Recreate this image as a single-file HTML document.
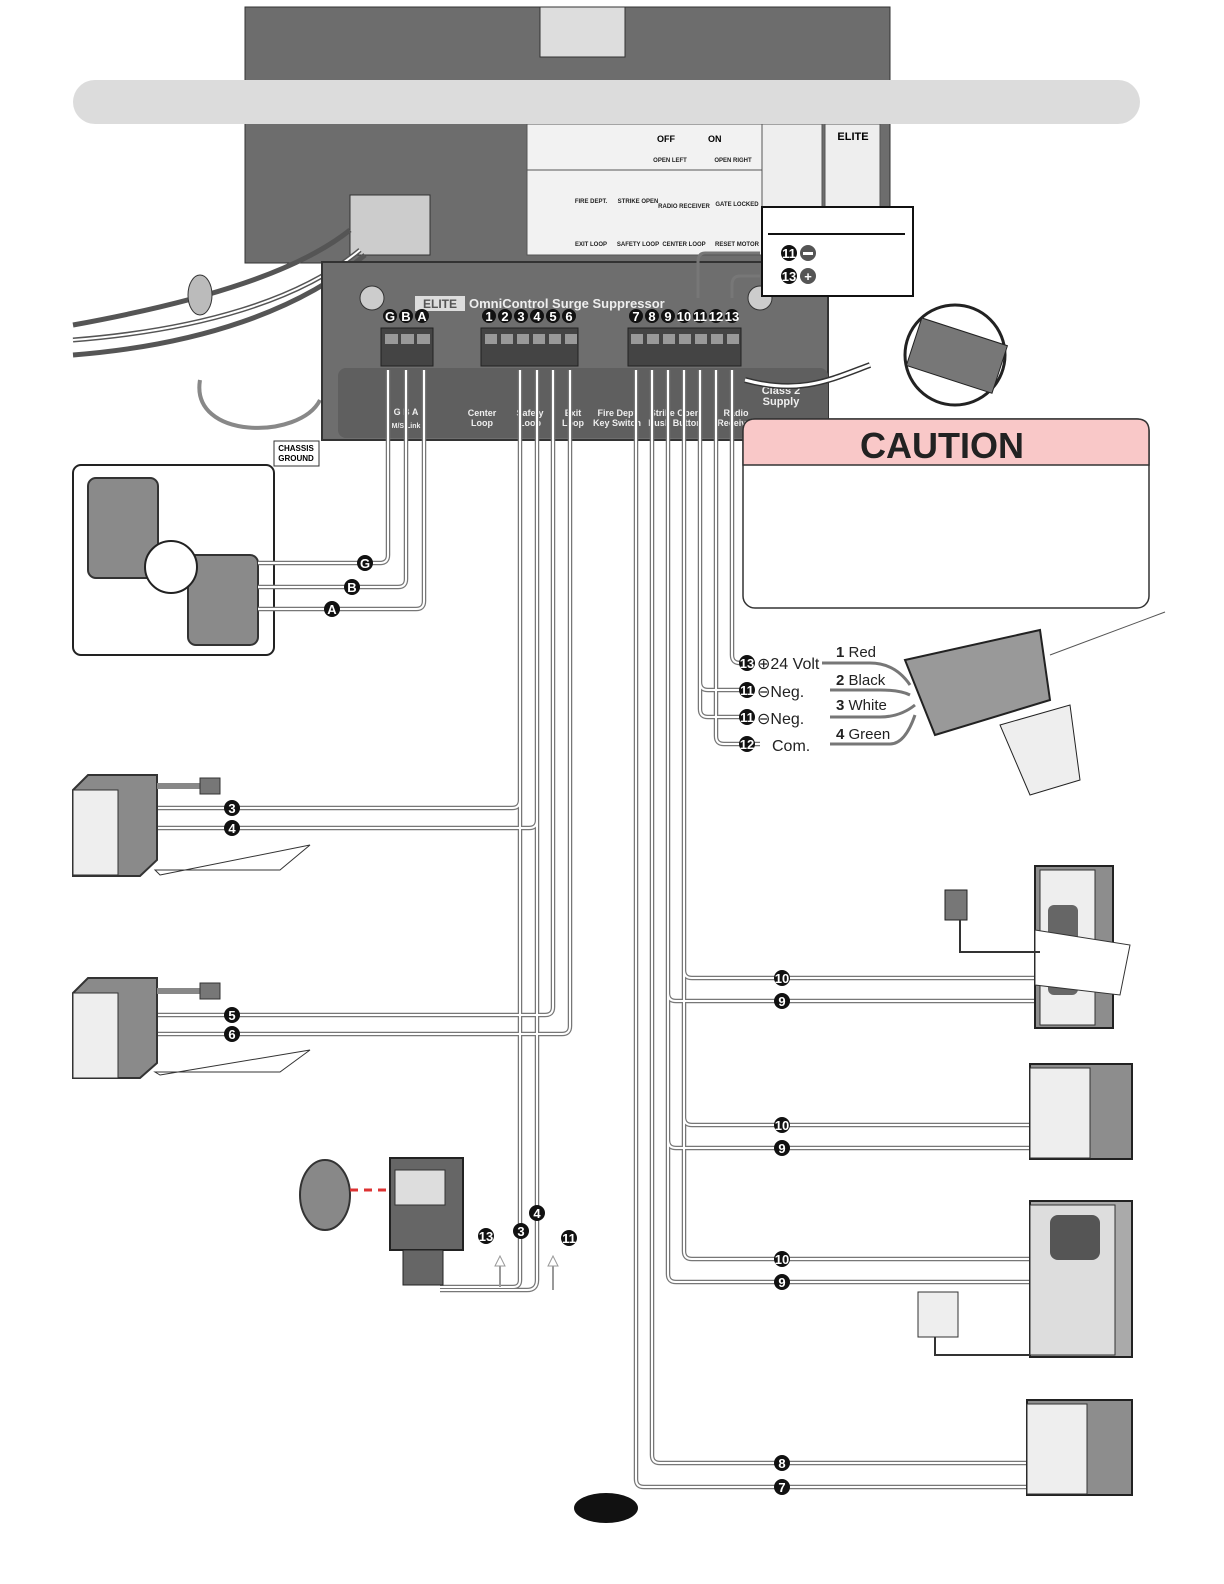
<!DOCTYPE html>
<html><head><meta charset="utf-8"><style>
html,body{margin:0;padding:0;background:#fff;overflow:hidden;width:1224px;height:1584px}
svg{display:block;font-family:"Liberation Sans",sans-serif}
.wo{fill:none;stroke:#777;stroke-width:4.5}
.wi{fill:none;stroke:#fff;stroke-width:2}
.n{fill:#111}
.nt{fill:#fff;font-weight:bold;font-size:13px;text-anchor:middle}
.dev{fill:#8a8a8a;stroke:#333;stroke-width:2}
</style></head><body>
<svg width="1224" height="1584" viewBox="0 0 1224 1584" xmlns="http://www.w3.org/2000/svg">
<!-- top board -->
<rect x="245" y="7" width="645" height="256" fill="#6d6d6d" stroke="#333"/>
<rect x="540" y="7" width="85" height="50" fill="#ddd" stroke="#333"/>
<rect x="527" y="170" width="235" height="85" fill="#f2f2f2" stroke="#555"/>
<rect x="527" y="124" width="235" height="46" fill="#f2f2f2" stroke="#555"/>
<rect x="762" y="124" width="60" height="84" fill="#eee" stroke="#555"/>
<rect x="825" y="124" width="55" height="84" fill="#eee" stroke="#555"/>
<text x="853" y="140" font-size="11" font-weight="bold" text-anchor="middle">ELITE</text>
<rect x="350" y="195" width="80" height="60" fill="#ccc" stroke="#333"/>
<g font-size="6" font-weight="bold" fill="#222" text-anchor="middle">
<text x="591" y="203">FIRE DEPT.</text><text x="638" y="203">STRIKE OPEN</text><text x="684" y="208">RADIO RECEIVER</text><text x="737" y="206">GATE LOCKED</text>
<text x="591" y="246">EXIT LOOP</text><text x="638" y="246">SAFETY LOOP</text><text x="684" y="246">CENTER LOOP</text><text x="737" y="246">RESET MOTOR</text>
<text x="670" y="162">OPEN LEFT</text><text x="733" y="162">OPEN RIGHT</text></g>
<text x="657" y="142" font-size="9" font-weight="bold">OFF</text><text x="708" y="142" font-size="9" font-weight="bold">ON</text>
<!-- grey banner -->
<rect x="73" y="80" width="1067" height="44" rx="22" fill="#dcdcdc"/>
<!-- wires bundle left -->
<path d="M73 340 C200 330 300 300 360 250 M73 355 C200 345 300 310 365 255 M73 325 C210 300 300 270 350 230" fill="none" stroke="#555" stroke-width="5"/>
<path d="M73 340 C200 330 300 300 360 250" fill="none" stroke="#fff" stroke-width="2"/>
<ellipse cx="200" cy="295" rx="12" ry="20" fill="#bbb" stroke="#333"/>
<path d="M200 380 C190 440 300 440 320 400" fill="none" stroke="#888" stroke-width="4"/>
<rect x="274" y="441" width="45" height="25" fill="#fff" stroke="#333"/>
<text x="296" y="451" font-size="8" font-weight="bold" text-anchor="middle">CHASSIS</text>
<text x="296" y="461" font-size="8" font-weight="bold" text-anchor="middle">GROUND</text>
<!-- surge suppressor -->
<path d="M322 262 L828 262 L828 440 L322 440 Z" fill="#6e6e6e" stroke="#333" stroke-width="2"/>
<rect x="338" y="368" width="490" height="70" rx="8" fill="#5f5f5f"/>
<circle cx="372" cy="298" r="12" fill="#ccc" stroke="#333"/>
<circle cx="760" cy="298" r="12" fill="#ccc" stroke="#333"/>
<rect x="415" y="296" width="50" height="15" fill="#ddd"/><text x="440" y="308" font-size="12" font-weight="bold" text-anchor="middle" fill="#555">ELITE</text>
<text x="469" y="308" font-size="13" font-weight="bold" fill="#eee">OmniControl Surge Suppressor</text>
<rect x="381" y="328" width="52" height="38" fill="#444" stroke="#222"/>
<rect x="481" y="328" width="97" height="38" fill="#444" stroke="#222"/>
<rect x="628" y="328" width="113" height="38" fill="#444" stroke="#222"/>
<g fill="#999">
<rect x="385" y="334" width="13" height="10"/><rect x="401" y="334" width="13" height="10"/><rect x="417" y="334" width="13" height="10"/>
<rect x="485" y="334" width="12" height="10"/><rect x="501" y="334" width="12" height="10"/><rect x="517" y="334" width="12" height="10"/><rect x="533" y="334" width="12" height="10"/><rect x="549" y="334" width="12" height="10"/><rect x="565" y="334" width="12" height="10"/>
<rect x="631" y="334" width="12" height="10"/><rect x="647" y="334" width="12" height="10"/><rect x="663" y="334" width="12" height="10"/><rect x="679" y="334" width="12" height="10"/><rect x="695" y="334" width="12" height="10"/><rect x="711" y="334" width="12" height="10"/><rect x="727" y="334" width="12" height="10"/>
</g>
<g font-size="9" font-weight="bold" fill="#eee" text-anchor="middle">
<text x="406" y="415">G    B    A</text><text x="406" y="428" font-size="7">M/S Link</text>
<text x="482" y="416">Center</text><text x="482" y="426">Loop</text>
<text x="530" y="416">Safety</text><text x="530" y="426">Loop</text>
<text x="573" y="416">Exit</text><text x="573" y="426">Loop</text>
<text x="617" y="416">Fire Dept</text><text x="617" y="426">Key Switch</text>
<text x="675" y="416">Strike Open</text><text x="675" y="426">Push Button</text>
<text x="736" y="416">Radio</text><text x="736" y="426">Receiver</text>
<text x="781" y="394" font-size="11">Class 2</text><text x="781" y="405" font-size="11">Supply</text>
</g>
<g>
<circle class="n" cx="390" cy="316" r="7"/><text class="nt" x="390" y="321">G</text>
<circle class="n" cx="406" cy="316" r="7"/><text class="nt" x="406" y="321">B</text>
<circle class="n" cx="422" cy="316" r="7"/><text class="nt" x="422" y="321">A</text>
<circle class="n" cx="489" cy="316" r="7"/><text class="nt" x="489" y="321">1</text>
<circle class="n" cx="505" cy="316" r="7"/><text class="nt" x="505" y="321">2</text>
<circle class="n" cx="521" cy="316" r="7"/><text class="nt" x="521" y="321">3</text>
<circle class="n" cx="537" cy="316" r="7"/><text class="nt" x="537" y="321">4</text>
<circle class="n" cx="553" cy="316" r="7"/><text class="nt" x="553" y="321">5</text>
<circle class="n" cx="569" cy="316" r="7"/><text class="nt" x="569" y="321">6</text>
<circle class="n" cx="636" cy="316" r="7"/><text class="nt" x="636" y="321">7</text>
<circle class="n" cx="652" cy="316" r="7"/><text class="nt" x="652" y="321">8</text>
<circle class="n" cx="668" cy="316" r="7"/><text class="nt" x="668" y="321">9</text>
<circle class="n" cx="684" cy="316" r="7"/><text class="nt" x="684" y="321" font-size="10">10</text>
<circle class="n" cx="700" cy="316" r="7"/><text class="nt" x="700" y="321" font-size="10">11</text>
<circle class="n" cx="716" cy="316" r="7"/><text class="nt" x="716" y="321" font-size="10">12</text>
<circle class="n" cx="732" cy="316" r="7"/><text class="nt" x="732" y="321" font-size="10">13</text>
</g>
<!-- callout box -->
<rect x="762" y="207" width="151" height="89" fill="#fff" stroke="#111" stroke-width="2"/>
<line x1="768" y1="234" x2="905" y2="234" stroke="#111" stroke-width="2"/>
<circle class="n" cx="789" cy="253" r="8"/><text class="nt" x="789" y="258" font-size="10">11</text>
<circle fill="#555" cx="808" cy="253" r="8"/><rect x="803" y="252" width="10" height="3" fill="#fff"/>
<circle class="n" cx="789" cy="276" r="8"/><text class="nt" x="789" y="281" font-size="10">13</text>
<circle fill="#555" cx="808" cy="276" r="8"/><text class="nt" x="808" y="281" font-size="15">+</text>
<path d="M760 253 L705 253 Q698 253 698 262 L698 298 M760 276 L740 276 Q732 276 732 285 L732 298" fill="none" stroke="#777" stroke-width="3"/>
<!-- connector zoom -->
<path d="M745 380 C800 395 830 380 870 365" fill="none" stroke="#333" stroke-width="6"/>
<path d="M745 380 C800 395 830 380 870 365" fill="none" stroke="#fff" stroke-width="3"/>
<circle cx="955" cy="355" r="50" fill="#fff" stroke="#222" stroke-width="3"/>
<rect x="912" y="330" width="90" height="50" fill="#777" stroke="#222" transform="rotate(18 955 355)"/>
<!-- caution -->
<rect x="743" y="419" width="406" height="189" rx="12" fill="#fff" stroke="#333" stroke-width="1.5"/>
<path d="M755 419 H1137 Q1149 419 1149 431 V465 H743 V431 Q743 419 755 419 Z" fill="#f9c8c8" stroke="#333" stroke-width="1.5"/>
<text x="942" y="458" font-size="36" font-weight="bold" text-anchor="middle" fill="#222">CAUTION</text>
<!-- left box -->
<rect x="73" y="465" width="201" height="190" rx="8" fill="#fff" stroke="#222" stroke-width="2"/>
<rect x="88" y="478" width="70" height="100" rx="8" class="dev"/>
<rect x="188" y="555" width="70" height="90" rx="8" class="dev"/>
<circle cx="171" cy="567" r="26" fill="#fff" stroke="#222" stroke-width="2"/>
<!-- WIRES -->
<g>
<path class="wo" d="M388 370 V555 Q388 563 380 563 H258 M406 370 V579 Q406 587 398 587 H258 M424 370 V601 Q424 609 416 609 H258
M520 370 V800 Q520 808 512 808 H157 M537 370 V820 Q537 828 529 828 H157 M553 370 V1007 Q553 1015 545 1015 H157 M570 370 V1026 Q570 1034 562 1034 H157
M520 800 V1280 Q520 1287 513 1287 H440 M537 820 V1280 Q537 1290 527 1290 H440
M636 370 V1479 Q636 1487 644 1487 H1040 M652 370 V1455 Q652 1463 660 1463 H1040
M668 370 V1274 Q668 1282 676 1282 H1032 M684 370 V1251 Q684 1259 692 1259 H1032 M668 993 Q668 1001 676 1001 H1040 M684 970 Q684 978 692 978 H1040 M668 1140 Q668 1148 676 1148 H1032 M684 1117 Q684 1125 692 1125 H1032
M700 370 V682 Q700 690 708 690 H740 M700 682 V709 Q700 717 708 717 H740 M716 370 V736 Q716 744 724 744 H760 M732 370 V655 Q732 663 740 663 H745"/>
<path class="wi" d="M388 370 V555 Q388 563 380 563 H258 M406 370 V579 Q406 587 398 587 H258 M424 370 V601 Q424 609 416 609 H258
M520 370 V800 Q520 808 512 808 H157 M537 370 V820 Q537 828 529 828 H157 M553 370 V1007 Q553 1015 545 1015 H157 M570 370 V1026 Q570 1034 562 1034 H157
M520 800 V1280 Q520 1287 513 1287 H440 M537 820 V1280 Q537 1290 527 1290 H440
M636 370 V1479 Q636 1487 644 1487 H1040 M652 370 V1455 Q652 1463 660 1463 H1040
M668 370 V1274 Q668 1282 676 1282 H1032 M684 370 V1251 Q684 1259 692 1259 H1032 M668 993 Q668 1001 676 1001 H1040 M684 970 Q684 978 692 978 H1040 M668 1140 Q668 1148 676 1148 H1032 M684 1117 Q684 1125 692 1125 H1032
M700 370 V682 Q700 690 708 690 H740 M700 682 V709 Q700 717 708 717 H740 M716 370 V736 Q716 744 724 744 H760 M732 370 V655 Q732 663 740 663 H745"/>
<path d="M500 1287 V1262 M553 1290 V1262" stroke="#999" stroke-width="2" fill="none"/>
<path d="M495 1266 L500 1256 L505 1266 Z M548 1266 L553 1256 L558 1266 Z" fill="#fff" stroke="#999"/>
</g>
<g>
<circle class="n" cx="365" cy="563" r="8"/><text class="nt" x="365" y="568">G</text>
<circle class="n" cx="352" cy="587" r="8"/><text class="nt" x="352" y="592">B</text>
<circle class="n" cx="332" cy="609" r="8"/><text class="nt" x="332" y="614">A</text>
<circle class="n" cx="232" cy="808" r="8"/><text class="nt" x="232" y="813">3</text>
<circle class="n" cx="232" cy="828" r="8"/><text class="nt" x="232" y="833">4</text>
<circle class="n" cx="232" cy="1015" r="8"/><text class="nt" x="232" y="1020">5</text>
<circle class="n" cx="232" cy="1034" r="8"/><text class="nt" x="232" y="1039">6</text>
<circle class="n" cx="486" cy="1236" r="8"/><text class="nt" x="486" y="1241" font-size="10">13</text>
<circle class="n" cx="521" cy="1231" r="8"/><text class="nt" x="521" y="1236">3</text>
<circle class="n" cx="537" cy="1213" r="8"/><text class="nt" x="537" y="1218">4</text>
<circle class="n" cx="569" cy="1238" r="8"/><text class="nt" x="569" y="1243" font-size="10">11</text>
<circle class="n" cx="782" cy="978" r="8"/><text class="nt" x="782" y="983" font-size="10">10</text>
<circle class="n" cx="782" cy="1001" r="8"/><text class="nt" x="782" y="1006">9</text>
<circle class="n" cx="782" cy="1125" r="8"/><text class="nt" x="782" y="1130" font-size="10">10</text>
<circle class="n" cx="782" cy="1148" r="8"/><text class="nt" x="782" y="1153">9</text>
<circle class="n" cx="782" cy="1259" r="8"/><text class="nt" x="782" y="1264" font-size="10">10</text>
<circle class="n" cx="782" cy="1282" r="8"/><text class="nt" x="782" y="1287">9</text>
<circle class="n" cx="782" cy="1463" r="8"/><text class="nt" x="782" y="1468">8</text>
<circle class="n" cx="782" cy="1487" r="8"/><text class="nt" x="782" y="1492">7</text>
</g>
<g font-size="16" fill="#222">
<circle class="n" cx="747" cy="663" r="8"/><text class="nt" x="747" y="668" font-size="10">13</text><text x="757" y="669">⊕24 Volt</text>
<circle class="n" cx="747" cy="690" r="8"/><text class="nt" x="747" y="695" font-size="10">11</text><text x="757" y="697">⊖Neg.</text>
<circle class="n" cx="747" cy="717" r="8"/><text class="nt" x="747" y="722" font-size="10">11</text><text x="757" y="724">⊖Neg.</text>
<circle class="n" cx="747" cy="744" r="8"/><text class="nt" x="747" y="749" font-size="10">12</text><text x="772" y="751">Com.</text>
<text x="836" y="657" font-size="15"><tspan font-weight="bold">1</tspan> Red</text>
<text x="836" y="685" font-size="15"><tspan font-weight="bold">2</tspan> Black</text>
<text x="836" y="710" font-size="15"><tspan font-weight="bold">3</tspan> White</text>
<text x="836" y="739" font-size="15"><tspan font-weight="bold">4</tspan> Green</text>
</g>
<path d="M822 663 H870 Q895 663 910 685 M830 690 H880 Q900 690 910 695 M830 717 H880 Q900 717 915 705 M830 744 H890 Q905 744 915 715" fill="none" stroke="#777" stroke-width="3"/>
<path d="M905 660 L1040 630 L1050 700 L935 735 Z" fill="#999" stroke="#222" stroke-width="2"/>
<line x1="1050" y1="655" x2="1165" y2="612" stroke="#555"/>
<path d="M1000 725 L1070 705 L1080 780 L1030 795 Z" fill="#eee" stroke="#222"/>
<!-- left detectors -->
<path d="M73 790 L88 775 H157 V860 L140 876 H73 Z" class="dev"/><rect x="73" y="790" width="45" height="85" fill="#eee" stroke="#333"/>
<rect x="157" y="783" width="45" height="6" fill="#888"/><rect x="200" y="778" width="20" height="16" fill="#777" stroke="#333"/>
<path d="M160 875 L310 845 L280 870 H155 Z" fill="#fff" stroke="#333"/>
<path d="M73 993 L88 978 H157 V1063 L140 1078 H73 Z" class="dev"/><rect x="73" y="993" width="45" height="85" fill="#eee" stroke="#333"/>
<rect x="157" y="988" width="45" height="6" fill="#888"/><rect x="200" y="983" width="20" height="16" fill="#777" stroke="#333"/>
<path d="M160 1075 L310 1050 L280 1072 H155 Z" fill="#fff" stroke="#333"/>
<!-- photo eye -->
<ellipse cx="325" cy="1195" rx="25" ry="35" fill="#888" stroke="#333" stroke-width="2"/>
<line x1="350" y1="1190" x2="390" y2="1190" stroke="#d33" stroke-width="3" stroke-dasharray="8 6"/>
<rect x="390" y="1158" width="73" height="92" fill="#666" stroke="#222" stroke-width="2"/>
<rect x="395" y="1170" width="50" height="35" fill="#ddd" stroke="#333"/>
<rect x="403" y="1250" width="40" height="35" fill="#666" stroke="#222"/>
<!-- right devices -->
<rect x="1035" y="866" width="78" height="162" fill="#8d8d8d" stroke="#222" stroke-width="2"/><rect x="1040" y="870" width="55" height="155" fill="#eee" stroke="#333"/>
<rect x="1048" y="905" width="30" height="90" rx="6" fill="#666"/>
<path d="M1035 930 L1130 945 L1120 995 L1035 985 Z" fill="#fff" stroke="#333"/>
<rect x="945" y="890" width="22" height="30" fill="#777" stroke="#222"/>
<path d="M960 920 V952 H1040" fill="none" stroke="#333" stroke-width="2"/>
<rect x="1030" y="1064" width="102" height="95" fill="#8d8d8d" stroke="#222" stroke-width="2"/><rect x="1030" y="1068" width="60" height="90" fill="#eee" stroke="#333"/>
<rect x="1030" y="1201" width="102" height="156" fill="#aaa" stroke="#222" stroke-width="2"/><rect x="1030" y="1205" width="85" height="150" fill="#ddd" stroke="#333"/>
<rect x="1050" y="1215" width="50" height="45" rx="8" fill="#555"/>
<rect x="918" y="1292" width="40" height="45" fill="#eee" stroke="#333"/>
<path d="M935 1337 V1355 H1030" fill="none" stroke="#333" stroke-width="2"/>
<rect x="1027" y="1400" width="105" height="95" fill="#8d8d8d" stroke="#222" stroke-width="2"/><rect x="1027" y="1404" width="60" height="90" fill="#eee" stroke="#333"/>
<ellipse cx="606" cy="1508" rx="32" ry="15" fill="#111"/>
</svg>
</body></html>
